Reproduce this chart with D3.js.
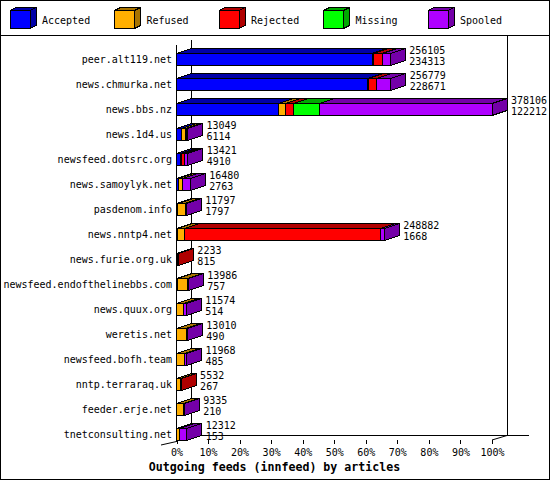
<!DOCTYPE html>
<html><head><meta charset="utf-8">
<script src="https://cdn.jsdelivr.net/npm/d3@7/dist/d3.min.js"></script>
<style>
html,body{margin:0;padding:0;background:#fff;}
svg{display:block;}
text{font-family:"DejaVu Sans Mono","Liberation Mono",monospace;fill:#000;}
.t{font-size:10px;}
</style></head>
<body><svg id="c" width="550" height="480"></svg>
<script>
const categories = ["peer.alt119.net","news.chmurka.net","news.bbs.nz","news.1d4.us","newsfeed.dotsrc.org","news.samoylyk.net","pasdenom.info","news.nntp4.net","news.furie.org.uk","newsfeed.endofthelinebbs.com","news.quux.org","weretis.net","newsfeed.bofh.team","nntp.terraraq.uk","feeder.erje.net","tnetconsulting.net"];
const offered  = [256105,256779,378106,13049,13421,16480,11797,248882,2233,13986,11574,13010,11968,5532,9335,12312];
const accepted = [234313,228671,122212,6114,4910,2763,1797,1668,815,757,514,490,485,267,210,153];
const refused  = [1500,1700,8400,4800,1200,4000,8500,7900,0,12000,8000,11000,9100,4500,7800,3800];
const rejected = [10500,9700,9600,600,4000,0,0,235400,1418,0,0,0,0,765,0,0];
const missing  = [0,0,31100,0,0,0,0,0,0,0,0,0,0,0,0,0];
const spooled  = [9792,16708,206794,1535,3311,9717,1500,3914,0,1229,3060,1520,2383,0,1325,8359];
const seriesNames = ["Accepted","Refused","Rejected","Missing","Spooled"];
const seriesColors = ["#0000ff","#ffaf00","#ff0000","#00ff00","#af00ff"];
const seriesDark   = ["#0000a8","#a87400","#b00000","#00a800","#7400a8"];
const pctTicks = [0,10,20,30,40,50,60,70,80,90,100];
const xTitle = "Outgoing feeds (innfeed) by articles";

const series = [accepted, refused, rejected, missing, spooled];
const svg = d3.select("#c");
const DX = 15, DY = -5;

// frame
svg.append("rect").attr("x",0.5).attr("y",0.5).attr("width",549).attr("height",479)
  .attr("fill","#fff").attr("stroke","#000").attr("stroke-width",1);
svg.append("line").attr("x1",0).attr("x2",550).attr("y1",35.5).attr("y2",35.5).attr("stroke","#000");

// legend
const lx = d3.scalePoint().domain(seriesNames).range([10,428]);
const leg = svg.append("g").attr("shape-rendering","crispEdges");
seriesNames.forEach((n,i)=>{
  const x0 = lx(n), y0 = 10.5, w = 20, h = 18, dx = 6, dy = -3;
  const g = leg.append("g");
  g.append("polygon").attr("points",[[x0,y0],[x0+dx,y0+dy],[x0+w+dx,y0+dy],[x0+w,y0]].join(" "))
    .attr("fill",seriesDark[i]).attr("stroke","#000");
  g.append("polygon").attr("points",[[x0+w,y0],[x0+w+dx,y0+dy],[x0+w+dx,y0+h+dy],[x0+w,y0+h]].join(" "))
    .attr("fill",seriesDark[i]).attr("stroke","#000");
  g.append("rect").attr("x",x0).attr("y",y0).attr("width",w).attr("height",h)
    .attr("fill",seriesColors[i]).attr("stroke","#000");
  svg.append("text").attr("class","t").attr("x",x0+32).attr("y",20).attr("dy","0.35em").text(n);
});

// scales
const maxOff = d3.max(offered);
const x = d3.scaleLinear().domain([0,maxOff]).range([176.5,492]);
const xPct = d3.scaleLinear().domain([0,100]).range([176.5,492]);
const y = d3.scaleBand().domain(categories).range([46.8,446.8]);
const cy = c => y(c) + y.bandwidth()/2;

// walls / axes
const ax = svg.append("g").attr("stroke","#000").attr("shape-rendering","crispEdges");
ax.append("line").attr("x1",xPct(0)+DX).attr("x2",xPct(0)+DX).attr("y1",40).attr("y2",435.5);
ax.append("line").attr("x1",xPct(0)).attr("x2",xPct(0)).attr("y1",45).attr("y2",442);
ax.append("line").attr("x1",xPct(0)+DX).attr("x2",529).attr("y1",435.5).attr("y2",435.5);
ax.append("line").attr("x1",xPct(100)+DX).attr("x2",xPct(100)+DX).attr("y1",36).attr("y2",435.5);
svg.append("line").attr("x1",xPct(100)).attr("y1",440).attr("x2",xPct(100)+DX).attr("y2",435.5).attr("stroke","#000");
svg.append("line").attr("x1",161).attr("y1",445).attr("x2",xPct(0)).attr("y2",441.5).attr("stroke","#000");

const axis = d3.axisBottom(xPct).tickValues(pctTicks).tickFormat(d=>d+"%").tickSize(4).tickPadding(5);
const axg = svg.append("g").attr("transform","translate(0,440)").call(axis);
axg.select(".domain").remove();
axg.selectAll("line").attr("stroke","#000").attr("shape-rendering","crispEdges");
axg.selectAll("text").attr("class","t").attr("font-size",null).attr("font-family","DejaVu Sans Mono").attr("fill","#000");

// category labels
svg.append("g").selectAll("text").data(categories).join("text")
  .attr("class","t").attr("x",172).attr("y",d=>cy(d)).attr("dy","0.35em").attr("text-anchor","end")
  .text(d=>d);

// bars
const bars = svg.append("g").attr("shape-rendering","crispEdges");
categories.forEach((c,r)=>{
  const top = Math.round(cy(c)-6)+0.5, bot = top+12;
  let cum = 0, lastIdx = 0;
  const g = bars.append("g");
  series.forEach((s,k)=>{
    const v = s[r];
    if (v <= 0) return;
    const x0 = x(cum), x1 = x(cum+v);
    g.append("polygon").attr("points",[[x0,top],[x0+DX,top+DY],[x1+DX,top+DY],[x1,top]].join(" "))
      .attr("fill",seriesDark[k]).attr("stroke","#000");
    g.append("rect").attr("x",x0).attr("y",top).attr("width",Math.max(0,x1-x0)).attr("height",bot-top)
      .attr("fill",seriesColors[k]).attr("stroke","#000");
    cum += v; lastIdx = k;
  });
  const xe = x(cum);
  g.append("polygon").attr("points",[[xe,top],[xe+DX,top+DY],[xe+DX,bot+DY],[xe,bot]].join(" "))
    .attr("fill",seriesDark[lastIdx]).attr("stroke","#000");
  const tx = x(offered[r]) + DX + 4;
  svg.append("text").attr("class","t").attr("x",tx).attr("y",cy(c)-9.3).attr("dy","0.35em").text(offered[r]);
  svg.append("text").attr("class","t").attr("x",tx).attr("y",cy(c)+1.8).attr("dy","0.35em").text(accepted[r]);
});

// x title
svg.append("text").attr("x",274.5).attr("y",466.7).attr("dy","0.35em").attr("text-anchor","middle")
  .attr("font-size","11.6px").attr("font-weight","bold").text(xTitle);
</script></body></html>
